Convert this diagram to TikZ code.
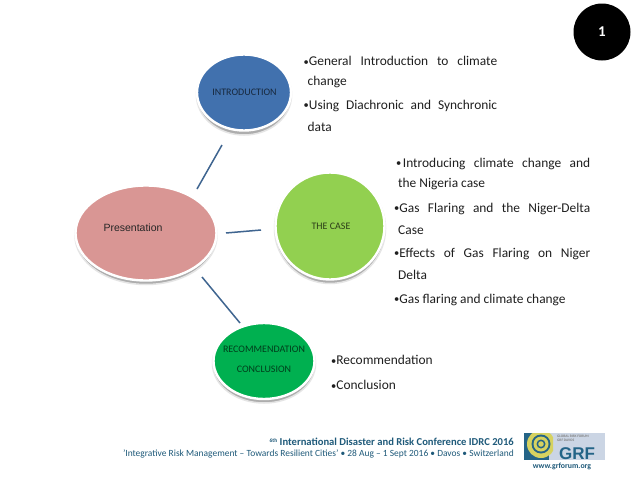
\documentclass[tikz,border=0pt]{standalone}
\usepackage{fontspec}
\setmainfont{Carlito}
\newfontfamily\arialf{Liberation Sans}
\usetikzlibrary{shapes.geometric}
\definecolor{lineblue}{HTML}{3F6590}
\definecolor{footblue}{HTML}{1F5A7A}
\definecolor{cintro}{HTML}{4171AE}
\definecolor{ccase}{HTML}{92D050}
\definecolor{cpres}{HTML}{D99694}
\definecolor{crec}{HTML}{00B050}
\definecolor{logoteal}{HTML}{246487}
\definecolor{logoyel}{HTML}{D6D260}
\definecolor{logobg}{HTML}{CBD5E4}
\tikzset{x=1pt,y=-1pt,
  bub/.style={ellipse,draw=white,line width=2.4pt,inner sep=0pt},
  bubshadow/.style={ellipse,fill=black!32,draw=black!10,line width=1.5pt,inner sep=0pt},
  conn/.style={draw=lineblue,line width=1.5pt},
  lbl/.style={font=\fontsize{10}{12}\selectfont,inner sep=0pt},
  item/.style={anchor=west,font=\fontsize{13.4}{15}\selectfont,text=black!88,inner sep=0pt},
  foot/.style={anchor=east,inner sep=0pt,text=footblue}}
\newcommand{\jline}[2]{\makebox[#1pt][s]{#2}}
\newcommand{\bul}{\raisebox{0.6pt}{\fontsize{10.5}{10}\selectfont•}}
\begin{document}
\begin{tikzpicture}
\useasboundingbox (0,0) rectangle (638,479);
\fill[white] (0,0) rectangle (638,479);
% page number
\fill[black] (602,32) circle (28.5);
\node[text=white,font=\bfseries\fontsize{15}{17}\selectfont,inner sep=0pt] (num) at (602,32) {1};
% shadows
\node[bubshadow,minimum width=95pt,minimum height=80pt] (s1) at (244,95) {};
\node[bubshadow,minimum width=111pt,minimum height=110pt] (s2) at (330,228.5) {};
\node[bubshadow,minimum width=142pt,minimum height=98pt] (s3) at (146,235.5) {};
\node[bubshadow,minimum width=103pt,minimum height=79pt] (s4) at (264,363.5) {};
% bubbles
\node[bub,minimum width=94pt,minimum height=76pt,fill=cintro] (intro) at (244,92.5) {};
\node[lbl,text=cintro!35!black] (intro text) at (244.5,92) {INTRODUCTION};
\node[bub,minimum width=109pt,minimum height=107pt,fill=ccase] (case) at (330,226) {};
\node[lbl,text=ccase!30!black] (case text) at (331,226) {THE CASE};
\node[bub,minimum width=141pt,minimum height=95pt,fill=cpres] (pres) at (146,233) {};
\node[font=\arialf\fontsize{10.5}{12}\selectfont,text=black!85,inner sep=0pt] (pres text) at (133,228) {Presentation};
\node[bub,minimum width=101pt,minimum height=76pt,fill=crec] (rec) at (264,361) {};
\node[lbl,text=crec!35!black] (rec text1) at (264,349.5) {RECOMMENDATION};
\node[lbl,text=crec!35!black] (rec text2) at (264,369.5) {CONCLUSION};
% connectors
\coordinate (a1) at (197,189); \coordinate (a2) at (222,145);
\coordinate (b1) at (226,233); \coordinate (b2) at (261,230);
\coordinate (c1) at (202,277); \coordinate (c2) at (240,323);
\draw[conn] (a1) -- (a2);
\draw[conn] (b1) -- (b2);
\draw[conn] (c1) -- (c2);
% intro list
\node[item] (t1) at (303.5,61) {\jline{193.5}{\bul General Introduction to climate}};
\node[item] (t2) at (307.5,82) {change};
\node[item] (t3) at (303.5,106) {\jline{193.5}{\bul Using Diachronic and Synchronic}};
\node[item] (t4) at (307.5,127) {data};
% case list
\node[item] (u1) at (396,164) {\jline{194}{\bul\kern1.5pt Introducing climate change and}};
\node[item] (u2) at (398,184) {the Nigeria case};
\node[item] (u3) at (394,209) {\jline{196}{\bul Gas Flaring and the Niger-Delta}};
\node[item] (u4) at (398,230) {Case};
\node[item] (u5) at (394,254) {\jline{196}{\bul Effects of Gas Flaring on Niger}};
\node[item] (u6) at (398,275) {Delta};
\node[item] (u7) at (394,300) {\bul Gas flaring and climate change};
% rec list
\node[item] (v1) at (331,360) {\bul Recommendation};
\node[item] (v2) at (331,385) {\bul Conclusion};
% footer
\node[foot,font=\bfseries\fontsize{10.6}{12}\selectfont] (f1) at (514,441.5) {\raisebox{2.5pt}{\fontsize{5.5}{6}\selectfont 6th} International Disaster and Risk Conference IDRC 2016};
\node[foot,font=\fontsize{9.45}{11}\selectfont] (f2) at (514,454) {'Integrative Risk Management – Towards Resilient Cities' • 28 Aug – 1 Sept 2016 • Davos • Switzerland};
% logo
\fill[logobg] (524,433) rectangle (605,460);
\fill[logoteal] (524,433) rectangle (549,460);
\begin{scope}
\clip (524,433) rectangle (553,460);
\foreach \r/\c in {14/logoyel,9.5/logoteal,7.5/logoyel,4.5/logoteal,2.8/logoyel}
  \fill[\c] (541,444) circle (\r);
\end{scope}
\node[anchor=west,inner sep=0pt,font=\bfseries\fontsize{3.6}{4}\selectfont,text=black!50] (l1) at (557,436.5) {GLOBAL RISK FORUM};
\node[anchor=west,inner sep=0pt,font=\bfseries\fontsize{3.6}{4}\selectfont,text=black!50] (l2) at (557,440.5) {GRF DAVOS};
\node[inner sep=0pt,font=\arialf\bfseries\fontsize{17}{18}\selectfont,text=logoteal] (l3) at (577,453.5) {GRF};
\node[inner sep=0pt,font=\bfseries\fontsize{7.8}{9}\selectfont,text=footblue] (l4) at (562,466) {www.grforum.org};
\end{tikzpicture}
\end{document}
